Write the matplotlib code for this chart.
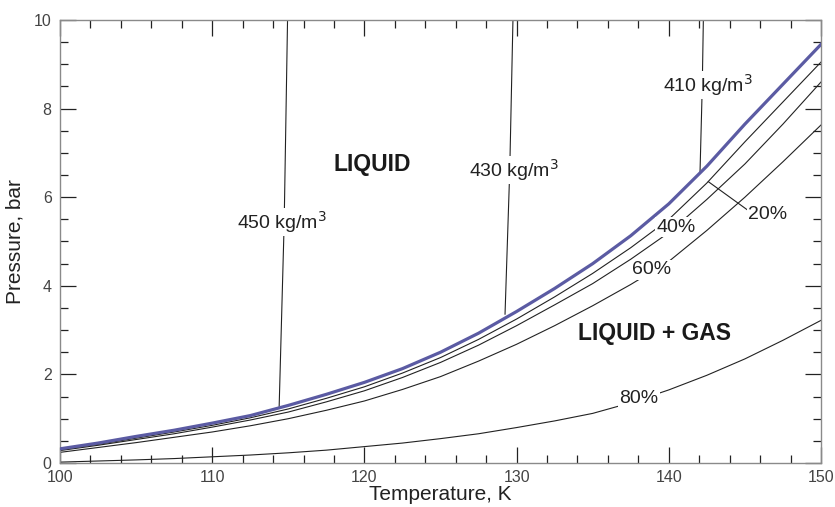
import matplotlib
matplotlib.use("Agg")
import matplotlib.pyplot as plt
from matplotlib.ticker import MultipleLocator

plt.rcParams['font.family'] = ['Liberation Sans', 'DejaVu Sans']

# ---- data ----
T = [100, 102.5, 105, 107.5, 110, 112.5, 115, 117.5, 120, 122.5, 125,
     127.5, 130, 132.5, 135, 137.5, 140, 142.5, 145, 147.5, 150]
p_bubble = [0.32, 0.45, 0.60, 0.74, 0.90, 1.07, 1.30, 1.55, 1.82, 2.13, 2.50,
            2.93, 3.42, 3.94, 4.50, 5.13, 5.85, 6.70, 7.65, 8.55, 9.45]
p_20 = [0.30, 0.42, 0.56, 0.70, 0.85, 1.02, 1.22, 1.46, 1.72, 2.03, 2.38,
        2.79, 3.25, 3.75, 4.28, 4.86, 5.50, 6.32, 7.25, 8.15, 9.05]
p_40 = [0.28, 0.40, 0.53, 0.66, 0.81, 0.97, 1.15, 1.38, 1.63, 1.93, 2.27,
        2.66, 3.10, 3.57, 4.05, 4.60, 5.20, 5.95, 6.75, 7.65, 8.60]
p_60 = [0.24, 0.35, 0.46, 0.58, 0.70, 0.84, 1.00, 1.19, 1.40, 1.66, 1.95,
        2.30, 2.68, 3.10, 3.55, 4.03, 4.55, 5.25, 6.00, 6.80, 7.63]
p_80 = [0.02, 0.045, 0.07, 0.10, 0.14, 0.18, 0.23, 0.29, 0.37, 0.45, 0.55,
        0.66, 0.80, 0.95, 1.12, 1.36, 1.65, 1.98, 2.35, 2.77, 3.22]

iso450_T = [114.95, 114.73, 114.40]
iso450_P = [10.0, 5.44, 1.28]
iso430_T = [129.76, 129.55, 129.24]
iso430_P = [10.0, 6.61, 3.36]
iso410_T = [142.27, 142.20, 142.05]
iso410_P = [10.0, 8.53, 6.55]

quality_labels = ['20%', '40%', '60%', '80%']
quality_label_T = [146.5, 140.5, 138.9, 138.05]
quality_label_P = [5.60, 5.32, 4.36, 1.46]
leader_T = [142.6, 145.3]
leader_P = [6.35, 5.68]

iso_labels = ['450 kg/m$^3$', '430 kg/m$^3$', '410 kg/m$^3$']
iso_label_T = [114.6, 129.8, 142.6]
iso_label_P = [5.44, 6.61, 8.53]

xlabel = 'Temperature, K'
ylabel = 'Pressure, bar'

# ---- figure ----
fig = plt.figure(figsize=(8.35, 5.07), dpi=100)
ax = fig.add_axes([60/835, 1-463/507, (821-60)/835, (463-20)/507])

ax.plot(T, p_80, color='#222222', lw=0.8, zorder=2)
ax.plot(T, p_60, color='#222222', lw=0.8, zorder=2)
ax.plot(T, p_40, color='#222222', lw=0.8, zorder=2)
ax.plot(T, p_20, color='#222222', lw=0.8, zorder=2)
ax.plot(T, p_bubble, color='#5b5ba3', lw=2.3, zorder=3)

for tt, pp in [(iso450_T, iso450_P), (iso430_T, iso430_P), (iso410_T, iso410_P)]:
    ax.plot(tt, pp, color='#222222', lw=0.8, zorder=2)

ax.plot(leader_T, leader_P, color='#222222', lw=0.8, zorder=2)

bbox = dict(facecolor='white', edgecolor='none', pad=1.0)
for lab, tx, py in zip(quality_labels, quality_label_T, quality_label_P):
    ax.text(tx, py, lab, fontsize=14, ha='center', va='center',
            color='#222222', bbox=bbox, zorder=4)
for lab, tx, py in zip(iso_labels, iso_label_T, iso_label_P):
    ax.text(tx, py, lab, fontsize=14, ha='center', va='center',
            color='#222222', bbox=bbox, zorder=4)

ax.text(120.5, 6.73, 'LIQUID', fontsize=16.5, fontweight='bold', ha='center',
        va='center', color='#1a1a1a', zorder=4)
ax.text(139.05, 2.93, 'LIQUID + GAS', fontsize=16.5, fontweight='bold',
        ha='center', va='center', color='#1a1a1a', zorder=4)

ax.set_xlim(100, 150)
ax.set_ylim(0, 10)
ax.xaxis.set_major_locator(MultipleLocator(10))
ax.xaxis.set_minor_locator(MultipleLocator(2))
ax.yaxis.set_major_locator(MultipleLocator(2))
ax.yaxis.set_minor_locator(MultipleLocator(0.5))

ax.tick_params(which='both', direction='in', top=True, right=True,
               color='#222222', width=0.9, labelsize=11.5, labelcolor='#444444')
ax.tick_params(axis='x', which='major', length=11.5, pad=5)
ax.tick_params(axis='y', which='major', length=11.5, pad=6)
ax.tick_params(which='minor', length=6)
for s in ax.spines.values():
    s.set_color('#8a8a8a')
    s.set_linewidth(1.0)

ax.set_xlabel(xlabel, fontsize=15, color='#222222', labelpad=0)
ax.set_ylabel(ylabel, fontsize=15, color='#222222', labelpad=7)

fig.savefig('out.png', dpi=100)
